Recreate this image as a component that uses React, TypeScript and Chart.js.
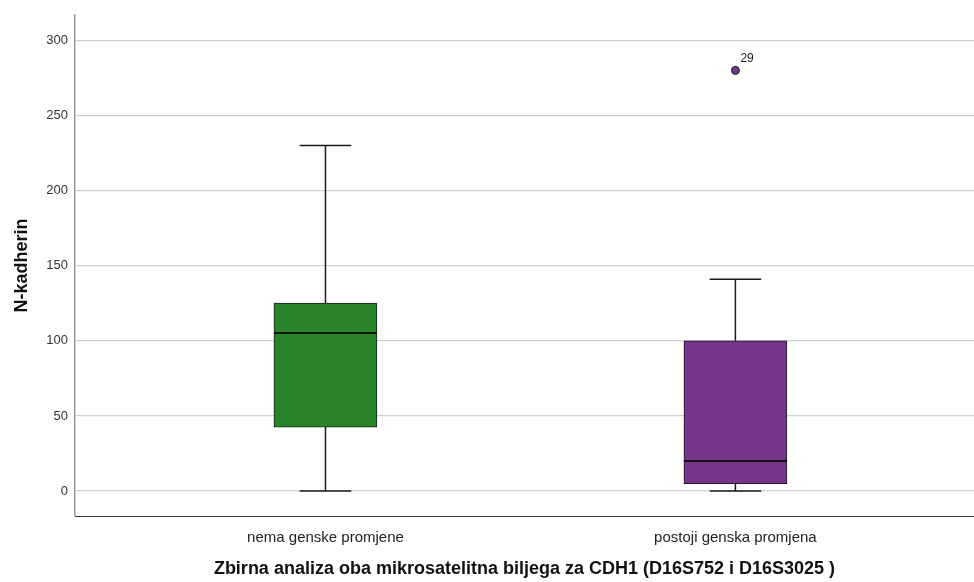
import { useEffect, useRef } from 'react';
import { Chart, registerables } from 'chart.js';

Chart.register(...registerables);

const categories = ['nema genske promjene', 'postoji genska promjena'];
const whiskerLow = [0, 0];
const q1 = [42.6, 5];
const median = [105.2, 20];
const q3 = [125.1, 100];
const whiskerHigh = [230, 141];
const outlierGroup = [2];
const outlierValues = [280];
const outlierLabels = ['29'];
const boxColors = ['#2a852a', '#76368c'];
const yTicks = [0, 50, 100, 150, 200, 250, 300];
const yTitle = 'N-kadherin';
const xTitle = 'Zbirna analiza oba mikrosatelitna biljega za CDH1 (D16S752 i D16S3025 )';

const FONT = "'Liberation Sans', Arial, sans-serif";

const boxPlugin = {
  id: 'boxWhiskers',
  afterDatasetsDraw(chart: any) {
    const { ctx, scales } = chart;
    const x = scales.x;
    const y = scales.y;
    const meta = chart.getDatasetMeta(0);
    ctx.save();
    categories.forEach((_, i) => {
      const bar = meta.data[i];
      const cx = x.getPixelForValue(i + 1);
      const half = bar.width / 2;
      const capHalf = half / 2;
      const yLow = y.getPixelForValue(whiskerLow[i]);
      const yHigh = y.getPixelForValue(whiskerHigh[i]);
      const yQ1 = y.getPixelForValue(q1[i]);
      const yQ3 = y.getPixelForValue(q3[i]);
      const yMed = y.getPixelForValue(median[i]);
      ctx.strokeStyle = '#1a1a1a';
      ctx.lineWidth = 1.5;
      ctx.beginPath();
      ctx.moveTo(cx, yQ3);
      ctx.lineTo(cx, yHigh);
      ctx.moveTo(cx - capHalf, yHigh);
      ctx.lineTo(cx + capHalf, yHigh);
      ctx.moveTo(cx, yQ1);
      ctx.lineTo(cx, yLow);
      ctx.moveTo(cx - capHalf, yLow);
      ctx.lineTo(cx + capHalf, yLow);
      ctx.stroke();
      ctx.lineWidth = 2;
      ctx.strokeStyle = '#111';
      ctx.beginPath();
      ctx.moveTo(cx - half, yMed);
      ctx.lineTo(cx + half, yMed);
      ctx.stroke();
    });
    ctx.fillStyle = '#222';
    ctx.font = `12px ${FONT}`;
    ctx.textAlign = 'left';
    ctx.textBaseline = 'middle';
    outlierValues.forEach((v, k) => {
      const px = x.getPixelForValue(outlierGroup[k]);
      const py = y.getPixelForValue(v);
      ctx.fillText(outlierLabels[k], px + 5, py - 12);
    });
    ctx.restore();
  },
};

export default function App() {
  const ref = useRef<HTMLCanvasElement>(null);
  useEffect(() => {
    document.body.style.margin = '0';
    const canvas = ref.current;
    if (!canvas) return;
    const chart = new Chart(canvas, {
      type: 'bar',
      data: {
        datasets: [
          {
            type: 'bar',
            data: categories.map((_, i) => ({ x: i + 1, y: [q1[i], q3[i]] })) as any,
            backgroundColor: boxColors,
            borderColor: '#1a1a1a',
            borderWidth: 1,
            borderSkipped: false,
            barThickness: 103,
          } as any,
          {
            type: 'scatter',
            data: outlierValues.map((v, k) => ({ x: outlierGroup[k], y: v })),
            backgroundColor: boxColors[1],
            borderColor: '#1a1a1a',
            borderWidth: 1,
            pointRadius: 4,
          } as any,
        ],
      },
      options: {
        animation: false,
        responsive: false,
        layout: { autoPadding: false, padding: { top: 13, right: 0, left: 0, bottom: 0 } },
        plugins: { legend: { display: false }, tooltip: { enabled: false } },
        scales: {
          x: {
            type: 'linear',
            offset: false,
            min: 0.389,
            max: 2.582,
            grid: { display: false },
            border: { display: true, color: '#333', width: 1 },
            afterBuildTicks: (s: any) => {
              s.ticks = categories.map((_, i) => ({ value: i + 1 }));
            },
            afterFit: (s: any) => {
              s.height = 66;
            },
            ticks: {
              autoSkip: false,
              maxRotation: 0,
              padding: 5,
              color: '#222',
              font: { family: FONT, size: 15 },
              callback: (v: any) => categories[Math.round(v) - 1] ?? '',
            },
            title: {
              display: true,
              text: xTitle,
              color: '#111',
              font: { family: FONT, size: 18, weight: 'bold' },
              padding: { top: 0, bottom: 2 },
            },
          },
          y: {
            type: 'linear',
            min: -16.6,
            max: 317,
            afterBuildTicks: (s: any) => {
              s.ticks = yTicks.map((v) => ({ value: v }));
            },
            afterFit: (s: any) => {
              s.width = 75;
            },
            grid: { color: '#cfcfcf', lineWidth: 1.2, drawTicks: false },
            border: { display: true, color: '#9a9a9a', width: 1.5 },
            ticks: {
              padding: 7,
              color: '#333',
              font: { family: FONT, size: 13 },
            },
            title: {
              display: true,
              text: yTitle,
              color: '#111',
              font: { family: FONT, size: 18, weight: 'bold' },
              padding: { top: 11, bottom: 0 },
            },
          },
        },
      },
      plugins: [boxPlugin],
    });
    return () => chart.destroy();
  }, []);
  return <canvas ref={ref} width={974} height={582} style={{ display: 'block' }} />;
}
